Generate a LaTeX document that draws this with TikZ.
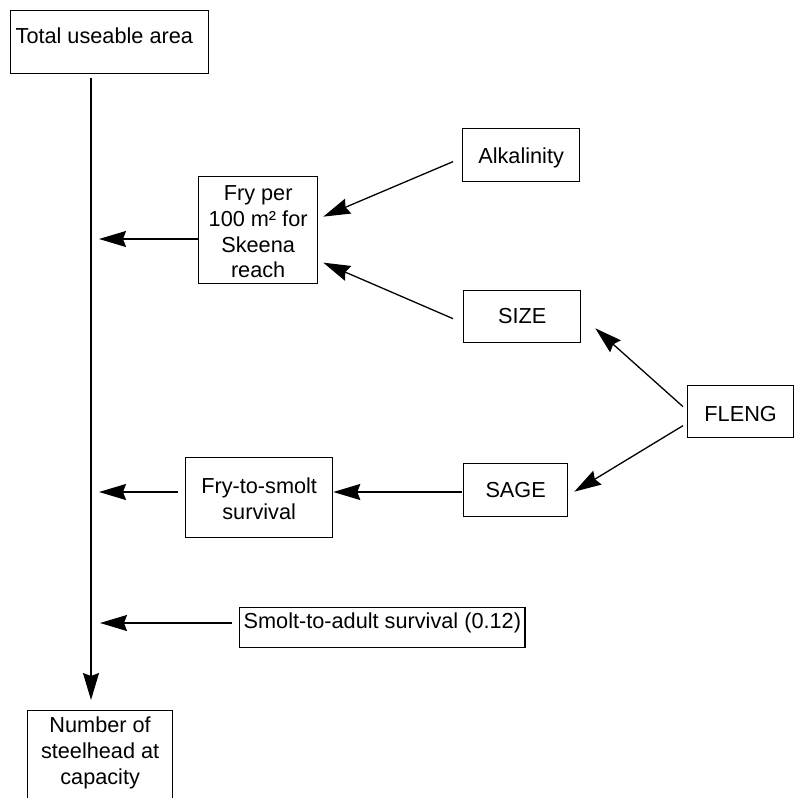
\documentclass[tikz,border=0pt]{standalone}
\usepackage{fontspec}
\setmainfont{Liberation Sans}
\usetikzlibrary{arrows.meta}
% centred multi-line label whose baseline is that of its first line
\newcommand\stack[2]{\parbox[t]{#1}{\centering #2}}

\begin{document}
\begin{tikzpicture}[x=1pt,y=-1pt,
  box/.style={draw, rectangle, line width=1.3pt, inner sep=0pt},
  arr/.style={line width=1.3pt, -{Stealth[length=27pt,width=16pt,inset=3pt]}},
  font=\fontsize{21.7}{25.7}\selectfont]
\path[use as bounding box, clip] (0,0) rectangle (794,798);

% model components
\node[box, anchor=north west, inner xsep=5pt, text height=33pt, text depth=30pt]
  (total) at (10,10) {\makebox[188pt][l]{Total useable area}};
\node[box, anchor=north west, text height=24pt, text depth=83pt]
  (fry) at (198,176) {\stack{119pt}{Fry per\\100 m² for\\Skeena\\reach}};
\node[box, anchor=north west, minimum width=117pt, text height=35pt, text depth=18pt]
  (alk) at (462,128) {Alkalinity};
\node[box, anchor=north west, minimum width=117pt, text height=33pt, text depth=19pt]
  (size) at (463,290) {SIZE};
\node[box, anchor=north west, minimum width=106pt, text height=36pt, text depth=16pt]
  (fleng) at (687,385) {FLENG};
\node[box, anchor=north west, minimum width=104pt, text height=34pt, text depth=19pt]
  (sage) at (463,463) {SAGE};
\node[box, anchor=north west, text height=36pt, text depth=44pt]
  (fts) at (185,457) {\stack{147pt}{Fry-to-smolt\\survival}};
\node[box, anchor=north west, inner xsep=4pt, text height=21pt, text depth=19pt]
  (smolt) at (239,607) {Smolt-to-adult survival (0.12)};
\node[box, anchor=north west, text height=22pt, text depth=73pt]
  (num) at (27,710) {\stack{145pt}{Number of\\steelhead at\\capacity}};

% main vertical flow and its junctions
\coordinate (sp) at (91,0);
\coordinate (j1) at (91,239);
\coordinate (j2) at (91,492);
\coordinate (j3) at (91,623);

\draw[arr, shorten <=4pt, shorten >=10pt] (total.south -| sp) -- (num.north -| sp);
\draw[arr, shorten >=8pt] (fry.west |- j1) -- (j1);
\draw[arr, shorten <=7pt, shorten >=8pt] (fts.west |- j2) -- (j2);
\draw[arr, shorten <=7pt, shorten >=9pt] (smolt.west |- j3) -- (j3);

% inputs
\draw[arr, shorten <=1pt] (sage.west |- j2) -- (fts.east |- j2);
\draw[arr] ([shift={(-9,6.5)}]alk.west) -- ([shift={(5,-13.5)}]fry.east);
\draw[arr] ([shift={(-10,2)}]size.west) -- ([shift={(5,32.5)}]fry.east);
\draw[arr] ([shift={(-4,-5)}]fleng.west) -- ([shift={(14,-15)}]size.south east);
\draw[arr] ([shift={(-4,14)}]fleng.west) -- ([shift={(6,1.5)}]sage.east);
\end{tikzpicture}
\end{document}
